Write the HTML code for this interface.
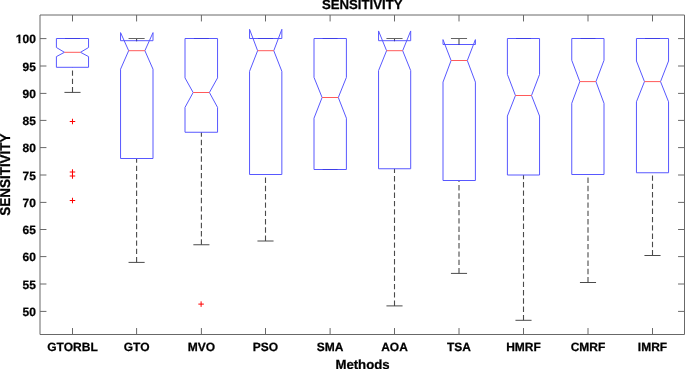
<!DOCTYPE html><html><head><meta charset="utf-8"><title>SENSITIVITY boxplot</title><style>html,body{margin:0;padding:0;background:#fff;overflow:hidden;}svg{display:block;will-change:transform;text-rendering:geometricPrecision;}</style></head><body><svg width="685" height="369" viewBox="0 0 685 369">
<rect width="685" height="369" fill="#fff"/>
<g stroke="#686868" stroke-width="1" fill="none">
<path d="M40.0 15.0H684.5M40.0 334.5H684.5M40.0 15.0V334.5M684.5 15.0V334.5"/>
<path d="M40.0 311.4h6.45M684.5 311.4h-6.45"/>
<path d="M40.0 284.0h6.45M684.5 284.0h-6.45"/>
<path d="M40.0 256.6h6.45M684.5 256.6h-6.45"/>
<path d="M40.0 229.5h6.45M684.5 229.5h-6.45"/>
<path d="M40.0 202.4h6.45M684.5 202.4h-6.45"/>
<path d="M40.0 175.0h6.45M684.5 175.0h-6.45"/>
<path d="M40.0 147.6h6.45M684.5 147.6h-6.45"/>
<path d="M40.0 120.4h6.45M684.5 120.4h-6.45"/>
<path d="M40.0 93.4h6.45M684.5 93.4h-6.45"/>
<path d="M40.0 66.0h6.45M684.5 66.0h-6.45"/>
<path d="M40.0 38.6h6.45M684.5 38.6h-6.45"/>
<path d="M72.5 334.5v-6.45M72.5 15.0v6.45"/>
<path d="M136.6 334.5v-6.45M136.6 15.0v6.45"/>
<path d="M201.4 334.5v-6.45M201.4 15.0v6.45"/>
<path d="M265.5 334.5v-6.45M265.5 15.0v6.45"/>
<path d="M330.1 334.5v-6.45M330.1 15.0v6.45"/>
<path d="M394.5 334.5v-6.45M394.5 15.0v6.45"/>
<path d="M459.0 334.5v-6.45M459.0 15.0v6.45"/>
<path d="M523.5 334.5v-6.45M523.5 15.0v6.45"/>
<path d="M588.0 334.5v-6.45M588.0 15.0v6.45"/>
<path d="M652.5 334.5v-6.45M652.5 15.0v6.45"/>
</g>
<g stroke="#4a4a4a" fill="none">
<path d="M72.50 92.4V67.3" stroke-width="1.1" stroke-dasharray="5.4 2.9"/>
<path d="M64.45 92.4H80.55" stroke-width="1"/>
<path d="M64.45 38.5H80.55" stroke-width="1"/>
<path d="M136.60 262.4V158.5" stroke-width="1.1" stroke-dasharray="5.4 2.9"/>
<path d="M136.60 38.5V41.2" stroke-width="1.1" stroke-dasharray="5.4 2.9"/>
<path d="M128.55 262.4H144.65" stroke-width="1"/>
<path d="M128.55 38.5H144.65" stroke-width="1" stroke="#646464"/>
<path d="M201.40 244.75V132.25" stroke-width="1.1" stroke-dasharray="5.4 2.9"/>
<path d="M193.35 244.75H209.45" stroke-width="1"/>
<path d="M193.35 38.5H209.45" stroke-width="1"/>
<path d="M265.50 241.0V174.5" stroke-width="1.1" stroke-dasharray="5.4 2.9"/>
<path d="M257.45 241.0H273.55" stroke-width="1"/>
<path d="M257.45 38.5H273.55" stroke-width="1"/>
<path d="M322.05 169.5H338.15" stroke-width="1"/>
<path d="M322.05 38.5H338.15" stroke-width="1"/>
<path d="M394.50 305.9V168.75" stroke-width="1.1" stroke-dasharray="5.4 2.9"/>
<path d="M394.50 38.5V41.2" stroke-width="1.1" stroke-dasharray="5.4 2.9"/>
<path d="M386.45 305.9H402.55" stroke-width="1"/>
<path d="M386.45 38.5H402.55" stroke-width="1" stroke="#646464"/>
<path d="M459.00 273.4V180.5" stroke-width="1.1" stroke-dasharray="5.4 2.9"/>
<path d="M459.00 38.5V45.0" stroke-width="1.1" stroke-dasharray="5.4 2.9"/>
<path d="M450.95 273.4H467.05" stroke-width="1"/>
<path d="M450.95 38.5H467.05" stroke-width="1" stroke="#646464"/>
<path d="M523.50 320.3V175.0" stroke-width="1.1" stroke-dasharray="5.4 2.9"/>
<path d="M515.45 320.3H531.55" stroke-width="1"/>
<path d="M515.45 38.5H531.55" stroke-width="1"/>
<path d="M588.00 282.5V174.5" stroke-width="1.1" stroke-dasharray="5.4 2.9"/>
<path d="M579.95 282.5H596.05" stroke-width="1"/>
<path d="M579.95 38.5H596.05" stroke-width="1"/>
<path d="M652.50 255.5V172.75" stroke-width="1.1" stroke-dasharray="5.4 2.9"/>
<path d="M644.45 255.5H660.55" stroke-width="1"/>
<path d="M644.45 38.5H660.55" stroke-width="1"/>
</g>
<path d="M56.40 67.3V56.60L64.44 52.3L56.40 47.50V38.5H88.55V47.50L80.51 52.3L88.55 56.60V67.3Z" stroke="#5858ff" stroke-width="1" fill="none"/>
<path d="M64.44 52.3H80.51" stroke="#ff5a5a" stroke-width="1" fill="none"/>
<path d="M120.55 158.5V69.20L128.66 50.7L120.55 32.62V40.7H153.00V32.62L144.89 50.7L153.00 69.20V158.5Z" stroke="#5858ff" stroke-width="1" fill="none"/>
<path d="M128.66 50.7H144.89" stroke="#ff5a5a" stroke-width="1" fill="none"/>
<path d="M185.00 132.25V107.40L193.14 92.5L185.00 77.90V38.5H217.55V77.90L209.41 92.5L217.55 107.40V132.25Z" stroke="#5858ff" stroke-width="1" fill="none"/>
<path d="M193.14 92.5H209.41" stroke="#ff5a5a" stroke-width="1" fill="none"/>
<path d="M249.55 174.5V71.30L257.62 50.7L249.55 29.30V38.5H281.85V29.30L273.78 50.7L281.85 71.30V174.5Z" stroke="#5858ff" stroke-width="1" fill="none"/>
<path d="M257.62 50.7H273.78" stroke="#ff5a5a" stroke-width="1" fill="none"/>
<path d="M314.00 169.5V118.20L322.10 97.5L314.00 77.39V38.5H346.40V77.39L338.30 97.5L346.40 118.20V169.5Z" stroke="#5858ff" stroke-width="1" fill="none"/>
<path d="M322.10 97.5H338.30" stroke="#ff5a5a" stroke-width="1" fill="none"/>
<path d="M378.55 168.75V70.60L386.59 50.7L378.55 30.95V40.7H410.70V30.95L402.66 50.7L410.70 70.60V168.75Z" stroke="#5858ff" stroke-width="1" fill="none"/>
<path d="M386.59 50.7H402.66" stroke="#ff5a5a" stroke-width="1" fill="none"/>
<path d="M443.00 180.5V82.10L451.10 60.5L443.00 39.60V44.5H475.40V39.60L467.30 60.5L475.40 82.10V180.5Z" stroke="#5858ff" stroke-width="1" fill="none"/>
<path d="M451.10 60.5H467.30" stroke="#ff5a5a" stroke-width="1" fill="none"/>
<path d="M507.40 175.0V116.05L515.44 95.5L507.40 74.40V38.5H539.55V74.40L531.51 95.5L539.55 116.05V175.0Z" stroke="#5858ff" stroke-width="1" fill="none"/>
<path d="M515.44 95.5H531.51" stroke="#ff5a5a" stroke-width="1" fill="none"/>
<path d="M571.75 174.5V103.30L579.81 81.6L571.75 60.30V38.5H604.00V60.30L595.94 81.6L604.00 103.30V174.5Z" stroke="#5858ff" stroke-width="1" fill="none"/>
<path d="M579.81 81.6H595.94" stroke="#ff5a5a" stroke-width="1" fill="none"/>
<path d="M636.45 172.75V101.80L644.48 81.6L636.45 61.00V38.5H668.55V61.00L660.52 81.6L668.55 101.80V172.75Z" stroke="#5858ff" stroke-width="1" fill="none"/>
<path d="M644.48 81.6H660.52" stroke="#ff5a5a" stroke-width="1" fill="none"/>
<path d="M65.05 38.5H79.95M193.95 38.5H208.85M258.05 38.5H272.95M322.65 38.5H337.55M322.65 169.5H337.55M516.05 38.5H530.95M580.55 38.5H595.45M645.05 38.5H659.95" stroke="#3e3ee6" stroke-width="1" fill="none"/>
<path d="M136.60 40.20v0.9M394.50 40.20v0.9M459.00 44.00v0.9" stroke="#2a2aa8" stroke-width="1" fill="none"/>
<g stroke="#ff0000" stroke-width="1" fill="none">
<path d="M69.72 121.5h5.5M72.47 118.75v5.5"/>
<path d="M69.72 172.0h5.5M72.47 169.25v5.5"/>
<path d="M69.72 176.0h5.5M72.47 173.25v5.5"/>
<path d="M69.72 200.5h5.5M72.47 197.75v5.5"/>
<path d="M198.35 304.1h5.5M201.10 301.35v5.5"/>
</g>
<g font-family="'Liberation Sans', sans-serif" font-weight="bold" stroke="#000" stroke-width="0.25" font-size="12" fill="#000">
<text x="35.9" y="316.15" text-anchor="end">50</text>
<text x="35.9" y="288.75" text-anchor="end">55</text>
<text x="35.9" y="261.35" text-anchor="end">60</text>
<text x="35.9" y="234.25" text-anchor="end">65</text>
<text x="35.9" y="207.15" text-anchor="end">70</text>
<text x="35.9" y="179.75" text-anchor="end">75</text>
<text x="35.9" y="152.35" text-anchor="end">80</text>
<text x="35.9" y="125.15" text-anchor="end">85</text>
<text x="35.9" y="98.15" text-anchor="end">90</text>
<text x="35.9" y="70.75" text-anchor="end">95</text>
<text x="35.9" y="43.35" text-anchor="end">100</text>
<text x="72.50" y="351.3" text-anchor="middle">GTORBL</text>
<text x="136.60" y="351.3" text-anchor="middle">GTO</text>
<text x="201.40" y="351.3" text-anchor="middle">MVO</text>
<text x="265.50" y="351.3" text-anchor="middle">PSO</text>
<text x="330.10" y="351.3" text-anchor="middle">SMA</text>
<text x="394.50" y="351.3" text-anchor="middle">AOA</text>
<text x="459.00" y="351.3" text-anchor="middle">TSA</text>
<text x="523.50" y="351.3" text-anchor="middle">HMRF</text>
<text x="588.00" y="351.3" text-anchor="middle">CMRF</text>
<text x="652.50" y="351.3" text-anchor="middle">IMRF</text>
</g>
<path d="M15.9 41.10h2.55v2.8h-2.55zM20.45 41.10h2.3v2.8h-2.3z" fill="#fff"/>
<g font-family="'Liberation Sans', sans-serif" font-weight="bold" stroke="#000" stroke-width="0.25" font-size="13.2" fill="#000">
<text x="362.2" y="9.45" text-anchor="middle">SENSITIVITY</text>
<text x="362.5" y="369.0" text-anchor="middle">Methods</text>
<text transform="translate(9.8 174.6) rotate(-90) scale(1.02 1.08)" text-anchor="middle">SENSITIVITY</text>
</g>
</svg></body></html>
